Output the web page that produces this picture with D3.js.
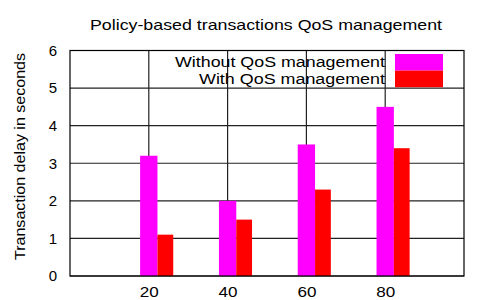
<!DOCTYPE html>
<html>
<head>
<meta charset="utf-8">
<script src="https://cdn.jsdelivr.net/npm/d3@7"></script>
<style>
body { margin: 0; background: #fff; }
text { font-family: "Liberation Sans", Arial, sans-serif; fill: #000; }
</style>
</head>
<body>
<div id="chart"></div>
<script>
var loads = [20, 40, 60, 80]
var withoutQos = [3.2, 2.0, 3.5, 4.5]
var withQos = [1.1, 1.5, 2.3, 3.4]
var yTicks = [0, 1, 2, 3, 4, 5, 6]
var seriesNames = ["Without QoS management", "With QoS management"]
var seriesColors = ["#ff00ff", "#ff0000"]

var width = 494, height = 300
var svg = d3.select("#chart").append("svg")
    .attr("width", width)
    .attr("height", height)

var xScale = d3.scaleLinear().domain([0, 100]).range([70, 464])
var yScale = d3.scaleLinear().domain([0, 6]).range([276, 50.5])

// grid
svg.append("g").selectAll("line.h")
    .data(yTicks)
    .enter().append("line")
    .attr("x1", xScale(0)).attr("x2", xScale(100))
    .attr("y1", d => yScale(d)).attr("y2", d => yScale(d))
    .attr("stroke", "#222").attr("stroke-width", 1.2)

svg.append("g").selectAll("line.v")
    .data(loads)
    .enter().append("line")
    .attr("x1", d => xScale(d)).attr("x2", d => xScale(d))
    .attr("y1", yScale(0)).attr("y2", yScale(6))
    .attr("stroke", "#222").attr("stroke-width", 1.2)

// bars
var bars = svg.append("g")
bars.selectAll("rect.a")
    .data(loads)
    .enter().append("rect")
    .attr("x", d => xScale(d - 2.2))
    .attr("width", xScale(2.2) - xScale(-2.2))
    .attr("y", (d, i) => yScale(withoutQos[i]))
    .attr("height", (d, i) => yScale(0) - yScale(withoutQos[i]))
    .attr("fill", seriesColors[0])
bars.selectAll("rect.b")
    .data(loads)
    .enter().append("rect")
    .attr("x", d => xScale(d + 2.2))
    .attr("width", xScale(4) - xScale(0))
    .attr("y", (d, i) => yScale(withQos[i]))
    .attr("height", (d, i) => yScale(0) - yScale(withQos[i]))
    .attr("fill", seriesColors[1])

// frame
svg.append("rect")
    .attr("x", xScale(0)).attr("y", yScale(6))
    .attr("width", xScale(100) - xScale(0))
    .attr("height", yScale(0) - yScale(6))
    .attr("fill", "none").attr("stroke", "#000").attr("stroke-width", 1.2)

// axes labels
var yAxis = d3.axisLeft(yScale).tickValues(yTicks).tickFormat(d3.format("d")).tickSize(0).tickPadding(13)
var yg = svg.append("g").attr("transform", "translate(" + xScale(0) + ",0)").call(yAxis)
yg.select(".domain").remove()
yg.selectAll("text").attr("font-size", 15).attr("font-family", "Liberation Sans, Arial, sans-serif")

var xAxis = d3.axisBottom(xScale).tickValues(loads).tickSize(0).tickPadding(11)
var xg = svg.append("g").attr("transform", "translate(0," + yScale(0) + ")").call(xAxis)
xg.select(".domain").remove()
xg.selectAll("text").attr("font-size", 14).attr("font-family", "Liberation Sans, Arial, sans-serif")
    .attr("textLength", 19).attr("lengthAdjust", "spacingAndGlyphs")

// title
svg.append("text")
    .attr("x", 90).attr("y", 30)
    .attr("font-size", 15)
    .attr("textLength", 352).attr("lengthAdjust", "spacingAndGlyphs")
    .text("Policy-based transactions QoS management")

// y title
svg.append("text")
    .attr("transform", "translate(25,260) rotate(-90)")
    .attr("font-size", 15)
    .attr("textLength", 207).attr("lengthAdjust", "spacingAndGlyphs")
    .text("Transaction delay in seconds")

// legend
var legend = svg.append("g")
var legendLens = [210, 186]
seriesNames.forEach(function(name, i) {
    legend.append("rect")
        .attr("x", 395).attr("y", 54 + i * 16.6)
        .attr("width", 48).attr("height", 16.6)
        .attr("fill", seriesColors[i])
    legend.append("text")
        .attr("x", 385 - legendLens[i]).attr("y", 67 + i * 16.6)
        .attr("font-size", 14)
        .attr("textLength", legendLens[i]).attr("lengthAdjust", "spacingAndGlyphs")
        .text(name)
})
</script>
</body>
</html>
